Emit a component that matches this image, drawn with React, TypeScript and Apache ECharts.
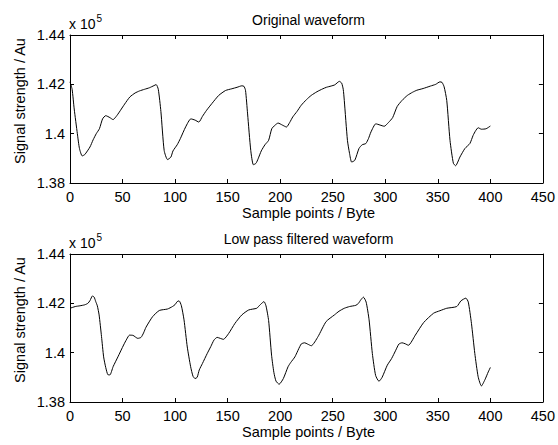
import React, { useEffect, useRef } from "react";
import * as echarts from "echarts";

const X_TICKS_MAX = 450;
const X_INTERVAL = 50;
const Y_MIN = 1.38;
const Y_MAX = 1.44;
const Y_INTERVAL = 0.02;
const SCALE_EXP = "5";

const TITLE_TOP = "Original waveform";
const TITLE_BOTTOM = "Low pass filtered waveform";
const X_LABEL = "Sample points / Byte";
const Y_LABEL = "Signal strength / Au";

// values in units of 1e5
const originalWave: [number, number][] = [
  [0, 1.421], [2, 1.418], [4, 1.41], [7, 1.4], [9, 1.394], [11.6, 1.391], [14, 1.3915], [19, 1.3946],
  [22, 1.3975], [25, 1.4], [28, 1.402], [31, 1.406], [34, 1.4073], [38, 1.4065], [41, 1.4057], [44, 1.407],
  [47, 1.4088], [52, 1.412], [57, 1.4149], [62, 1.4165], [66, 1.4173], [71, 1.418], [75.5, 1.4186], [80, 1.4195],
  [82, 1.4199], [84, 1.418], [86.5, 1.409], [89.6, 1.3932], [92.8, 1.3895], [96, 1.3905], [98, 1.393], [102, 1.3955],
  [105, 1.398], [110, 1.4027], [115, 1.406], [119, 1.4055], [122.6, 1.4047], [126, 1.407], [130, 1.4095], [135, 1.4122],
  [141.5, 1.4155], [148, 1.4175], [154, 1.4182], [159, 1.4188], [163.5, 1.4194], [165.5, 1.4192], [167, 1.4176], [169, 1.408],
  [172, 1.3932], [174.5, 1.3874], [177, 1.388], [179, 1.3898], [182, 1.393], [185.5, 1.3955], [189, 1.3973], [192, 1.402],
  [195, 1.4034], [198, 1.4043], [202, 1.4035], [206, 1.4027], [209, 1.4045], [212, 1.4068], [216, 1.409], [220, 1.4115],
  [225, 1.4138], [229.5, 1.4155], [235, 1.417], [240.6, 1.4182], [244, 1.4188], [248.4, 1.4193], [252, 1.4198], [256.3, 1.4212],
  [258.5, 1.4205], [260, 1.418], [261, 1.4135], [264, 1.3973], [266, 1.392], [268, 1.3885], [271, 1.3892], [275, 1.394],
  [278, 1.3955], [281.5, 1.396], [284, 1.398], [286.4, 1.4007], [291, 1.404], [295, 1.4035], [299, 1.403], [303, 1.4045],
  [307, 1.4065], [311.3, 1.411], [316, 1.4135], [321, 1.4155], [326, 1.4168], [330, 1.4176], [336, 1.4183], [343, 1.4193],
  [348, 1.42], [352, 1.421], [354, 1.4208], [356, 1.419], [358.5, 1.4135], [361.6, 1.3973], [364.8, 1.388], [367, 1.387],
  [369, 1.3885], [371, 1.3905], [375.8, 1.394], [380.5, 1.396], [383.6, 1.3993], [386, 1.4012], [388.4, 1.4024], [391.5, 1.4018],
  [396, 1.402], [400, 1.4031],
];

const filteredWave: [number, number][] = [
  [0, 1.418], [5, 1.4187], [9.4, 1.419], [14, 1.4194], [17, 1.42], [19, 1.4211], [21.4, 1.423], [23, 1.4225],
  [24.5, 1.4207], [26, 1.419], [27.7, 1.4153], [30, 1.4065], [32, 1.3983], [34, 1.394], [36, 1.3911], [38, 1.391],
  [41, 1.3943], [45.6, 1.3983], [51, 1.4031], [54, 1.4055], [56.6, 1.4071], [60, 1.407], [64.5, 1.4058], [67.6, 1.4062],
  [70, 1.408], [72.3, 1.4103], [78.6, 1.4146], [85, 1.4171], [92.8, 1.4177], [97.5, 1.4187], [100, 1.4195], [102, 1.4207],
  [103.8, 1.421], [106, 1.419], [108.5, 1.4133], [111.6, 1.4023], [114.8, 1.3943], [117, 1.3905], [119, 1.3895], [121, 1.39],
  [123, 1.393], [126, 1.3956], [130.5, 1.3996], [134, 1.4025], [137, 1.4051], [140, 1.4062], [143, 1.4058], [146, 1.4054],
  [151, 1.4078], [157, 1.4119], [163.5, 1.4153], [170, 1.4173], [177.7, 1.418], [180, 1.419], [182.4, 1.42], [184.6, 1.4207],
  [186.5, 1.419], [189, 1.413], [191.8, 1.399], [194, 1.392], [196, 1.3885], [199, 1.3872], [203, 1.3895], [207.5, 1.3943],
  [210, 1.396], [214, 1.3983], [220, 1.4035], [223.3, 1.404], [226, 1.4035], [229.6, 1.4028], [236, 1.4065], [243.7, 1.4126],
  [251.6, 1.4153], [256, 1.4168], [261, 1.418], [266, 1.4187], [272, 1.4192], [274.5, 1.42], [276.7, 1.4214], [279.2, 1.4225],
  [281.8, 1.4205], [284.6, 1.4133], [287.7, 1.3997], [290.8, 1.3908], [294, 1.3884], [297, 1.39], [301.9, 1.3949], [306, 1.3976],
  [310, 1.401], [313, 1.4035], [316, 1.404], [319, 1.4036], [322, 1.403], [328.6, 1.4071], [336.5, 1.4122], [346, 1.416],
  [352, 1.417], [358.5, 1.418], [368, 1.4187], [372, 1.421], [376.7, 1.4221], [379, 1.4205], [382, 1.4119], [385.2, 1.3997],
  [388.4, 1.3902], [391.5, 1.3865], [394.8, 1.389], [398, 1.3922], [400, 1.394],
];

const FONT = "Liberation Sans, Arial, sans-serif";

export default function App() {
  const ref = useRef<HTMLDivElement>(null);
  useEffect(() => {
    document.body.style.margin = "0";
    if (!ref.current) return;
    const chart = echarts.init(ref.current, null, { renderer: "svg" });

    const grids = [
      { left: 70, top: 35, width: 477, height: 148 },
      { left: 70, top: 254, width: 477, height: 148 },
    ];
    const axisLine = { show: true, onZero: false, lineStyle: { color: "#000", width: 1 } };
    const tick = { show: true, inside: true, length: 4, lineStyle: { color: "#000", width: 1 } };
    const labelStyle = { color: "#000", fontSize: 14.5, fontFamily: FONT };

    const xAxes: any[] = [];
    const yAxes: any[] = [];
    [0, 1].forEach((g) => {
      const base = {
        type: "value",
        gridIndex: g,
        min: 0,
        max: X_TICKS_MAX,
        interval: X_INTERVAL,
        axisLine,
        axisTick: tick,
        splitLine: { show: false },
      };
      xAxes.push({ ...base, position: "bottom", axisLabel: { ...labelStyle, margin: 6 } });
      xAxes.push({ ...base, position: "top", axisLabel: { show: false } });
      const ybase = {
        type: "value",
        gridIndex: g,
        min: Y_MIN,
        max: Y_MAX,
        interval: Y_INTERVAL,
        axisLine,
        axisTick: tick,
        splitLine: { show: false },
      };
      yAxes.push({
        ...ybase,
        position: "left",
        axisLabel: { ...labelStyle, margin: 5, formatter: (v: number) => String(+v.toFixed(2)) },
      });
      yAxes.push({ ...ybase, position: "right", axisLabel: { show: false } });
    });

    const txt = (x: number, y: number, text: string, size: number) => ({
      type: "text",
      x,
      y,
      style: { text, fill: "#000", font: `${size}px ${FONT}`, align: "center", verticalAlign: "middle" },
    });

    const graphics: any[] = [];
    grids.forEach((gr, i) => {
      const cx = gr.left + gr.width / 2;
      graphics.push(txt(cx, gr.top - 15, i === 0 ? TITLE_TOP : TITLE_BOTTOM, 14));
      graphics.push(txt(cx, gr.top + gr.height + 30, X_LABEL, 14.5));
      graphics.push({
        type: "text",
        x: 20,
        y: gr.top + gr.height / 2 - 8,
        rotation: Math.PI / 2,
        style: { text: Y_LABEL, fill: "#000", font: `14.5px ${FONT}`, align: "center", verticalAlign: "middle" },
      });
      graphics.push({
        type: "text",
        x: 69,
        y: gr.top - 11,
        style: {
          text: "x 10{s|" + SCALE_EXP + "}",
          fill: "#000",
          font: `14px ${FONT}`,
          align: "left",
          verticalAlign: "middle",
          rich: { s: { fontSize: 10, fontFamily: FONT, fill: "#000", verticalAlign: "top", padding: [0, 0, 12, 1] } },
        },
      });
    });

    chart.setOption({
      animation: false,
      backgroundColor: "#fff",
      grid: grids,
      xAxis: xAxes,
      yAxis: yAxes,
      graphic: graphics,
      series: [
        {
          type: "line",
          xAxisIndex: 0,
          yAxisIndex: 0,
          data: originalWave,
          showSymbol: false,
          smooth: 0.2,
          lineStyle: { color: "#000", width: 1 },
        },
        {
          type: "line",
          xAxisIndex: 2,
          yAxisIndex: 2,
          data: filteredWave,
          showSymbol: false,
          smooth: 0.2,
          lineStyle: { color: "#000", width: 1 },
        },
      ],
    });
    return () => chart.dispose();
  }, []);
  return <div ref={ref} style={{ width: 558, height: 445 }} />;
}
